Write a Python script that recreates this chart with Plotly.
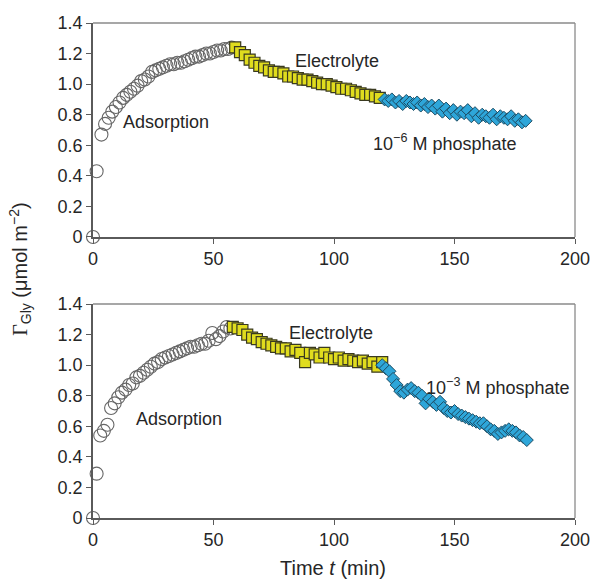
import plotly.graph_objects as go

# ---------------- data ----------------
# Top panel (10^-6 M phosphate)
t_ads_top = [0, 1.5, 3.5, 5, 6.5, 8, 9.5, 11, 12.5, 14, 15.5, 17, 18.5, 20, 21.5, 23, 24.5, 26, 27.5, 29,
             30.5, 32, 33.5, 35, 36.5, 38, 39.5, 41, 42.5, 44, 45.5, 47, 48.5, 50, 51.5, 53, 54.5, 56, 57.5]
g_ads_top = [0, 0.43, 0.67, 0.74, 0.78, 0.82, 0.85, 0.88, 0.91, 0.93, 0.95, 0.97, 0.99, 1.02, 1.03, 1.05,
             1.08, 1.09, 1.10, 1.11, 1.12, 1.13, 1.13, 1.14, 1.14, 1.15, 1.16, 1.17, 1.18, 1.18, 1.19, 1.20,
             1.20, 1.21, 1.22, 1.22, 1.23, 1.23, 1.24]

t_ele_top = [59, 61, 63, 65, 67, 69, 71, 73, 75, 77, 79, 81, 83, 85, 87, 89, 91, 93, 95, 97, 99, 101, 103,
             105, 107, 109, 111, 113, 115, 117, 119]
g_ele_top = [1.24, 1.21, 1.19, 1.16, 1.14, 1.12, 1.11, 1.09, 1.08, 1.08, 1.07, 1.05, 1.05, 1.04, 1.03, 1.03,
             1.02, 1.01, 1.00, 1.00, 0.99, 0.98, 0.97, 0.97, 0.96, 0.95, 0.94, 0.93, 0.93, 0.92, 0.91]

t_pho_top = [121, 122.5, 124, 125.5, 127, 128.5, 130, 131.5, 133, 134.5, 136, 137.5, 139, 140.5, 142, 143.5,
             145, 146.5, 148, 149.5, 151, 152.5, 154, 155.5, 157, 158.5, 160, 161.5, 163, 164.5, 166, 167.5,
             169, 170.5, 172, 173.5, 175, 176.5, 178, 179.5]
g_pho_top = [0.90, 0.89, 0.90, 0.88, 0.89, 0.87, 0.89, 0.88, 0.87, 0.88, 0.86, 0.87, 0.85, 0.86, 0.84, 0.86,
             0.82, 0.84, 0.81, 0.83, 0.80, 0.82, 0.81, 0.83, 0.79, 0.81, 0.78, 0.80, 0.79, 0.78, 0.80, 0.77,
             0.79, 0.78, 0.77, 0.79, 0.76, 0.77, 0.75, 0.76]

# Bottom panel (10^-3 M phosphate)
t_ads_bot = [0, 1.5, 3, 4.5, 6, 7.5, 9, 10.5, 12, 13.5, 15, 16.5, 18, 19.5, 21, 22.5, 24, 25.5, 27, 28.5,
             30, 31.5, 33, 34.5, 36, 37.5, 39, 40.5, 42, 43.5, 45, 46.5, 48, 49.5, 51, 52.5, 54, 55.5, 57]
g_ads_bot = [0, 0.29, 0.54, 0.57, 0.61, 0.72, 0.75, 0.79, 0.82, 0.84, 0.87, 0.88, 0.92, 0.93, 0.95, 0.97,
             0.99, 1.01, 1.02, 1.04, 1.05, 1.06, 1.07, 1.08, 1.09, 1.10, 1.11, 1.12, 1.12, 1.13, 1.14, 1.14,
             1.16, 1.21, 1.17, 1.19, 1.22, 1.25, 1.24]

t_ele_bot = [58, 60, 62, 64, 66, 68, 70, 72, 74, 76, 78, 80, 82, 84, 86, 88, 90, 92, 94, 96, 98, 100, 102,
             104, 106, 108, 110, 112, 114, 116, 118, 120]
g_ele_bot = [1.25, 1.24, 1.23, 1.20, 1.18, 1.17, 1.15, 1.14, 1.13, 1.12, 1.11, 1.11, 1.09, 1.10, 1.08, 1.02,
             1.08, 1.07, 1.05, 1.08, 1.05, 1.04, 1.05, 1.03, 1.04, 1.03, 1.02, 1.03, 1.01, 1.02, 0.99, 1.02]

t_pho_bot = [120, 121.5, 123, 124.5, 126, 127.5, 129, 130.5, 132, 133.5, 135, 136.5, 138, 139.5, 141, 142.5,
             144, 145.5, 147, 148.5, 150, 151.5, 153, 154.5, 156, 157.5, 159, 160.5, 162, 163.5, 165, 166.5,
             168, 169.5, 171, 172.5, 174, 175.5, 177, 178.5, 180]
g_pho_bot = [1.00, 0.98, 0.96, 0.91, 0.87, 0.83, 0.82, 0.84, 0.85, 0.83, 0.82, 0.80, 0.75, 0.78, 0.76, 0.74,
             0.76, 0.72, 0.70, 0.69, 0.70, 0.68, 0.67, 0.66, 0.65, 0.64, 0.63, 0.62, 0.62, 0.60, 0.58, 0.57,
             0.55, 0.56, 0.57, 0.58, 0.57, 0.56, 0.54, 0.53, 0.51]

x_ticks = [0, 50, 100, 150, 200]
y_ticks = [0, 0.2, 0.4, 0.6, 0.8, 1.0, 1.2, 1.4]
y_ticktext = ["0", "0.2", "0.4", "0.6", "0.8", "1.0", "1.2", "1.4"]

# ---------------- styles ----------------
FONT = "Liberation Sans, Arial, sans-serif"
TXT = "#262626"
circle_style = dict(symbol="circle-open", size=13, color="#666666", line=dict(width=1.1, color="#666666"))
square_style = dict(symbol="square", size=11, color="#e0dc1e", line=dict(width=1.2, color="#3a3a20"))
diamond_style = dict(symbol="diamond", size=10, color="#2ea6d9", line=dict(width=1.0, color="#1d4c63"))

fig = go.Figure()

panels = [
    ("x", "y", t_ads_top, g_ads_top, t_ele_top, g_ele_top, t_pho_top, g_pho_top),
    ("x2", "y2", t_ads_bot, g_ads_bot, t_ele_bot, g_ele_bot, t_pho_bot, g_pho_bot),
]
for xa, ya, ta, ga, te, ge, tp, gp in panels:
    fig.add_trace(go.Scatter(x=ta, y=ga, mode="markers", marker=circle_style, xaxis=xa, yaxis=ya,
                             cliponaxis=False, showlegend=False))
    fig.add_trace(go.Scatter(x=te, y=ge, mode="markers", marker=square_style, xaxis=xa, yaxis=ya,
                             cliponaxis=False, showlegend=False))
    fig.add_trace(go.Scatter(x=tp, y=gp, mode="markers", marker=diamond_style, xaxis=xa, yaxis=ya,
                             cliponaxis=False, showlegend=False))

axis_common = dict(showgrid=False, zeroline=False, showline=True, linecolor="#5a5a5a", linewidth=1.6,
                   ticks="outside", ticklen=5, tickcolor="#5a5a5a", tickwidth=1.2,
                   tickfont=dict(family=FONT, size=18, color=TXT))

top_dom = [0.5677, 1.0]
bot_dom = [0.0, 0.4323]

fig.update_layout(
    width=602, height=586,
    margin=dict(l=93, r=16, t=23, b=68),
    paper_bgcolor="white", plot_bgcolor="white",
    xaxis=dict(range=[0, 200], domain=[0, 1], anchor="y", tickvals=x_ticks, **axis_common),
    yaxis=dict(range=[0, 1.4], domain=top_dom, anchor="x", tickvals=y_ticks, ticktext=y_ticktext, **axis_common),
    xaxis2=dict(range=[0, 200], domain=[0, 1], anchor="y2", tickvals=x_ticks, **axis_common),
    yaxis2=dict(range=[0, 1.4], domain=bot_dom, anchor="x2", tickvals=y_ticks, ticktext=y_ticktext, **axis_common),
)

# light gray top/right frame
for dom in (top_dom, bot_dom):
    fig.add_shape(type="line", xref="paper", yref="paper", x0=0, x1=1, y0=dom[1], y1=dom[1],
                  line=dict(color="#8a8a8a", width=1.3))
    fig.add_shape(type="line", xref="paper", yref="paper", x0=1, x1=1, y0=dom[0], y1=dom[1],
                  line=dict(color="#8a8a8a", width=1.3))

afont = dict(family=FONT, size=18, color=TXT)
notes = [
    ("x", "y", 11.5, 0.75, "Adsorption"),
    ("x", "y", 83, 1.15, "Electrolyte"),
    ("x", "y", 115.5, 0.62, "10<sup>−6</sup> M phosphate"),
    ("x2", "y2", 17, 0.65, "Adsorption"),
    ("x2", "y2", 80.5, 1.21, "Electrolyte"),
    ("x2", "y2", 137.5, 0.86, "10<sup>−3</sup> M phosphate"),
]
for xa, ya, xv, yv, txt in notes:
    fig.add_annotation(x=xv, y=yv, xref=xa, yref=ya, text=txt, showarrow=False,
                       xanchor="left", yanchor="middle", font=afont)

# axis titles
fig.add_annotation(xref="paper", yref="paper", x=-0.152, y=0.503, textangle=-90,
                   text="<span style='font-family:Liberation Serif'>Γ</span><sub>Gly</sub> (μmol m<sup>−2</sup>)",
                   showarrow=False, xanchor="center", yanchor="middle",
                   font=dict(family=FONT, size=20, color=TXT))
fig.add_annotation(xref="paper", yref="paper", x=0.497, y=-0.101,
                   text="Time <i>t</i> (min)", showarrow=False, xanchor="center", yanchor="middle",
                   font=dict(family=FONT, size=20, color=TXT))

fig.write_html("out.html")
